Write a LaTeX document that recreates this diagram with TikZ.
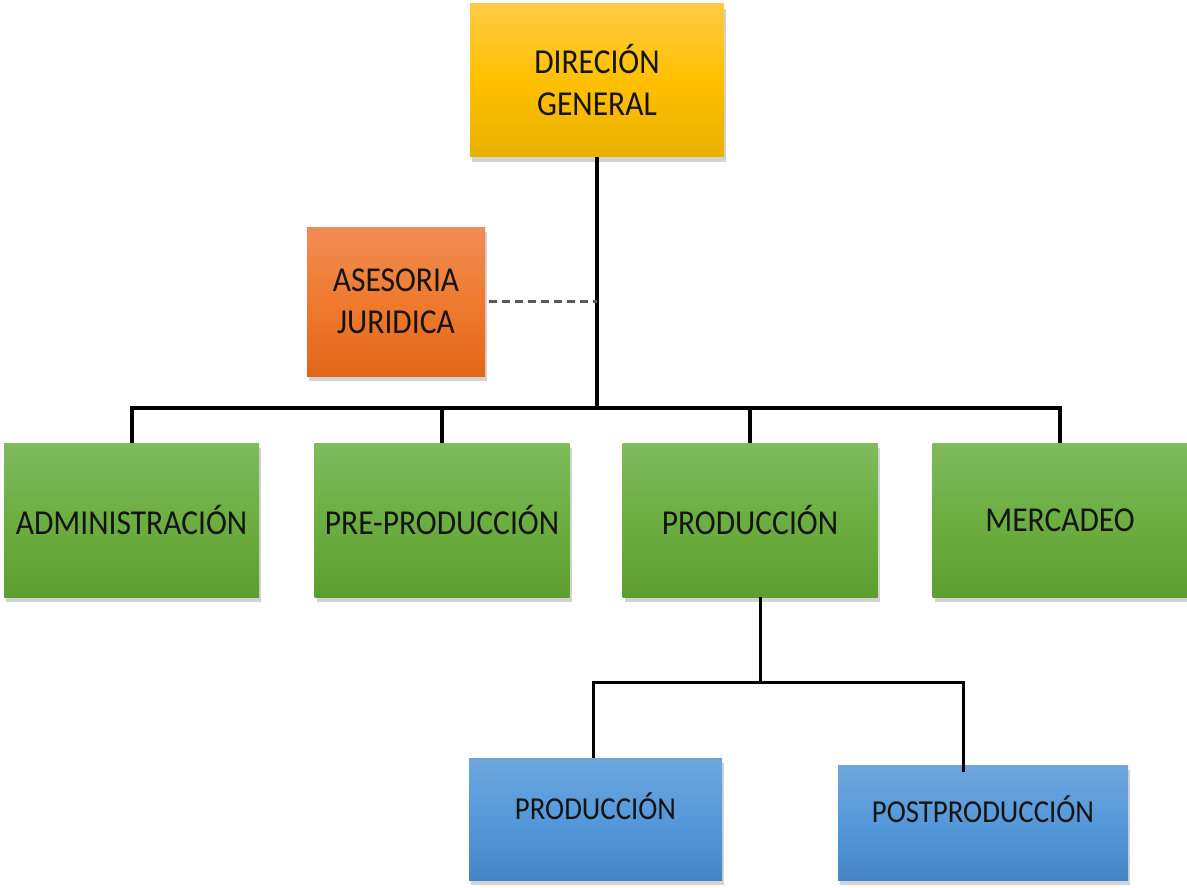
\documentclass[tikz,border=0pt]{standalone}
\usepackage{fontspec}
\setmainfont{Carlito}[FakeStretch=0.9]
\usetikzlibrary{shadows,calc}
\definecolor{ytop}{HTML}{FFCB45}
\definecolor{ymid}{HTML}{FFC000}
\definecolor{ybot}{HTML}{E8B000}
\definecolor{otop}{HTML}{F08D55}
\definecolor{omid}{HTML}{EF7A2E}
\definecolor{obot}{HTML}{E2661A}
\definecolor{gtop}{HTML}{80BA5E}
\definecolor{gmid}{HTML}{6CAE41}
\definecolor{gbot}{HTML}{5E9E30}
\definecolor{btop}{HTML}{6EA6DC}
\definecolor{bmid}{HTML}{5599DA}
\definecolor{bbot}{HTML}{4585C6}
\definecolor{txt}{HTML}{141414}
\tikzset{
  box/.style={rectangle, inner sep=0pt, align=center, text=txt,
    font=\fontsize{35}{42}\selectfont,
    drop shadow={opacity=0.35, shadow xshift=2pt, shadow yshift=-5pt}},
  ybox/.style={box, top color=ytop, bottom color=ybot, middle color=ymid},
  obox/.style={box, top color=otop, bottom color=obot, middle color=omid},
  gbox/.style={box, top color=gtop, bottom color=gbot, middle color=gmid, minimum width=255pt, minimum height=154pt},
  bbox/.style={box, top color=btop, bottom color=bbot, middle color=bmid, font=\fontsize{32}{38}\selectfont},
  link/.style={draw=black, line width=4pt},
  sublink/.style={draw=black, line width=3pt},
  dashlink/.style={draw=black!65, line width=2.2pt, dash pattern=on 8pt off 5pt},
}
\begin{document}
\begin{tikzpicture}[x=1pt, y=-1pt]
\useasboundingbox (0,0) rectangle (1187,888);
% nodes
\node[ybox, minimum width=254pt, minimum height=153pt] (dg) at (597,80.5) {DIRECIÓN\\GENERAL};
\node[obox, minimum width=178pt, minimum height=149pt] (ase) at (396,301.5) {ASESORIA\\JURIDICA};
\node[gbox] (adm) at (131.5,520) {ADMINISTRACIÓN};
\node[gbox] (pre) at (442,520) {PRE-PRODUCCIÓN};
\node[gbox] (prod) at (750,520) {PRODUCCIÓN};
\node[gbox] (mer) at (1060,520) {MERCADEO};
\node[bbox, minimum width=253pt, minimum height=122pt] (p2) at (595.5,819) {PRODUCCIÓN\\[-12pt]};
\node[bbox, minimum width=290pt, minimum height=115pt] (post) at (983,822.5) {POSTPRODUCCIÓN\\[-12pt]};
% coordinates
\coordinate (bus) at (597,408);
\coordinate (sub) at (760,682);
% connectors
\draw[link] (dg.south) -- (bus);
\draw[link] (adm.north) |- (bus) -| (mer.north);
\draw[link] (pre.north) -- (pre.north |- bus);
\draw[link] (prod.north) -- (prod.north |- bus);
\draw[dashlink] ([xshift=4pt]ase.east) -- (ase.east -| dg.south);
\draw[sublink] ([xshift=10pt]prod.south) -- (sub);
\draw[sublink] ([xshift=-2pt]p2.north) |- (sub);
\draw[sublink] (sub) -| ([xshift=-20pt, yshift=-7pt]post.north);
\end{tikzpicture}
\end{document}
